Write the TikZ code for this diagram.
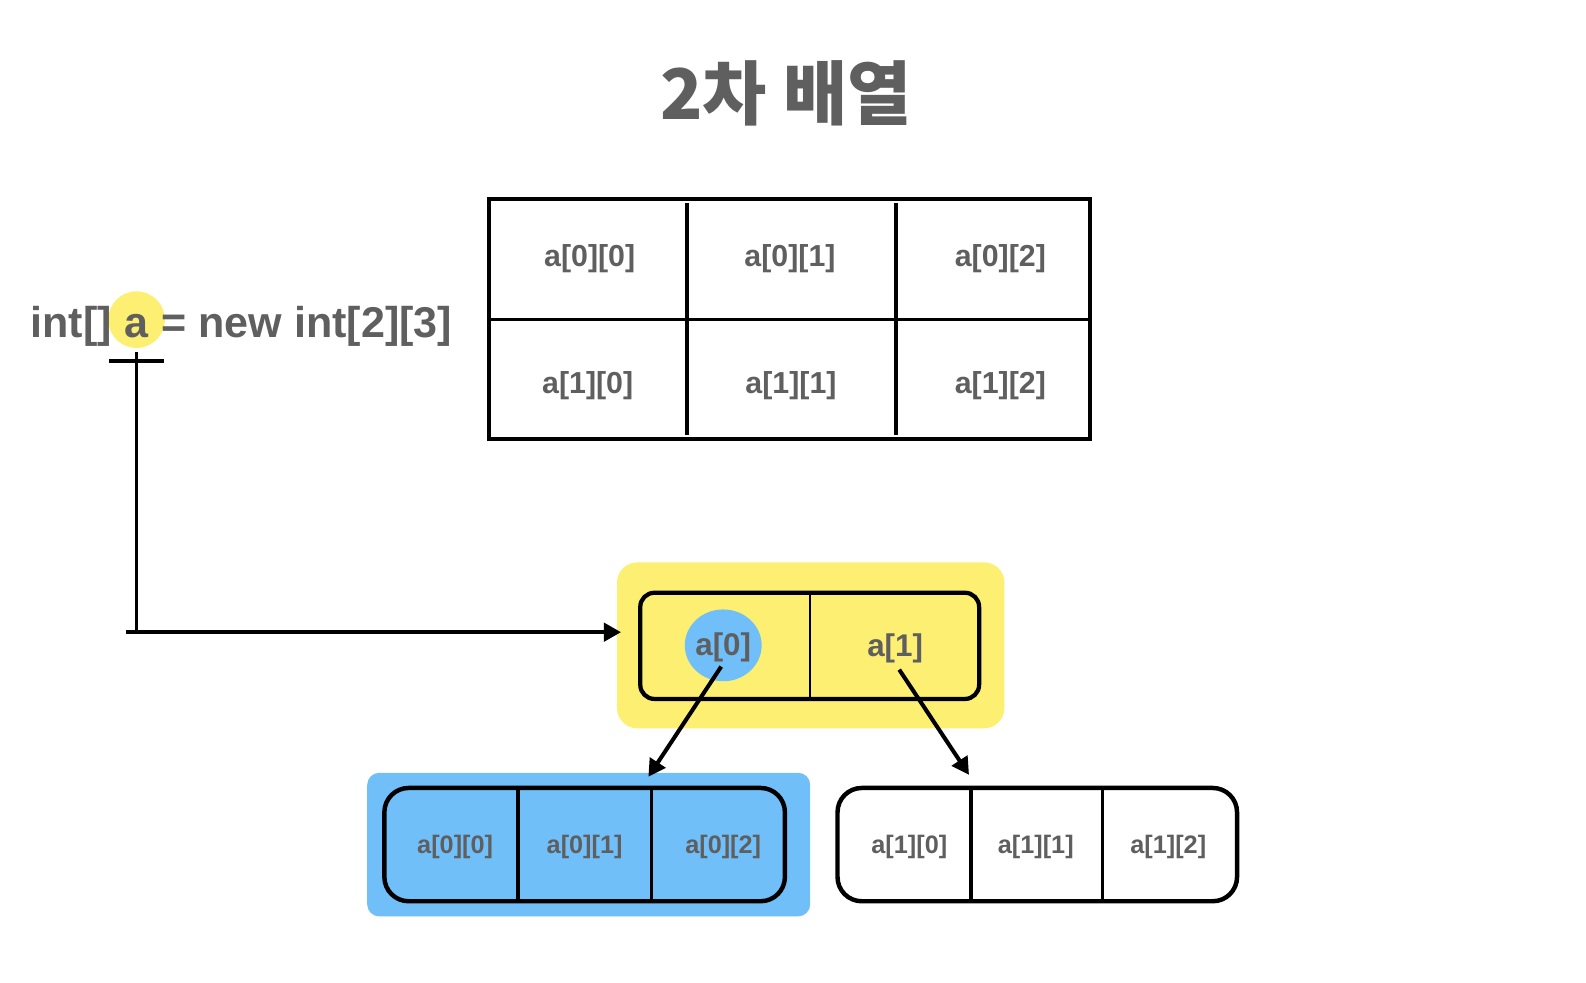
\documentclass[tikz,border=0pt]{standalone}
\usepackage{fontspec}
\setmainfont{Liberation Sans}
\newfontfamily\krfont{Noto Sans CJK KR}
\usetikzlibrary{arrows.meta,shapes.geometric}
\definecolor{txtgray}{HTML}{5F5F5F}
\definecolor{hlyellow}{HTML}{FDEF72}
\definecolor{hlblue}{HTML}{70BFF8}
\tikzset{
  lbl/.style={text=txtgray,font=\fontsize{15}{18}\selectfont\bfseries,inner sep=0pt},
  lblsmall/.style={text=txtgray,font=\fontsize{12.5}{15}\selectfont\bfseries,inner sep=0pt},
  lblmid/.style={text=txtgray,font=\fontsize{15.5}{18}\selectfont\bfseries,inner sep=0pt},
  decl/.style={text=txtgray,font=\fontsize{21.3}{25}\selectfont\bfseries,inner sep=0pt},
  tline/.style={line width=1.8pt},
  arr/.style={line width=2pt,-{Triangle[length=8.5pt,width=9pt]}},
  rowbox/.style={draw,line width=2.2pt,rounded corners=12pt,minimum width=198pt,minimum height=56pt,inner sep=0pt},
}
\begin{document}
\begin{tikzpicture}[x=0.5pt,y=-0.5pt]
\useasboundingbox (0,0) rectangle (1568,971);
% title
\node[anchor=base,text=txtgray,font=\krfont\bfseries\fontsize{34.5}{40}\selectfont,inner sep=0pt] (title) at (777,118) {2차 배열};
% declaration
\node[circle,fill=hlyellow,minimum size=28pt,inner sep=0pt] (acirc) at (135,316) {};
\node[decl,anchor=base] (avar) at (135,334) {a};
\node[decl,anchor=base east] (dleft) at (111,334) {int[]};
\node[decl,anchor=base west] (dright) at (159,334) {= new int[2][3]};
% reference line
\coordinate (crL) at (108,357);
\coordinate (crR) at (162,357);
\coordinate (vtop) at (135,348);
\coordinate (vbot) at (135,625);
\coordinate (hL) at (125,625);
\coordinate (yin) at (614,625);
\draw[tline] (crL) -- (crR);
\draw[tline] (vtop) -- (vbot);
% table
\node[draw,line width=2pt,minimum width=297.5pt,minimum height=118.5pt,inner sep=0pt] (tbl) at (780.5,315.5) {};
\coordinate (v1t) at (679,201); \coordinate (v1b) at (679,430);
\coordinate (v2t) at (886,201); \coordinate (v2b) at (886,430);
\draw[tline] (v1t) -- (v1b);
\draw[tline] (v2t) -- (v2b);
\draw[tline] (tbl.west |- 0,316) -- (tbl.east |- 0,316);
\node[lbl] (t00) at (583,256) {a[0][0]};
\node[lbl] (t01) at (781,256) {a[0][1]};
\node[lbl] (t02) at (989,256) {a[0][2]};
\node[lbl] (t10) at (581,381) {a[1][0]};
\node[lbl] (t11) at (782,381) {a[1][1]};
\node[lbl] (t12) at (989,381) {a[1][2]};
% yellow group
\node[fill=hlyellow,rounded corners=10pt,minimum width=191.5pt,minimum height=82pt,inner sep=0pt] (ybox) at (801.5,638) {};
\node[draw,line width=2.1pt,rounded corners=7pt,minimum width=167.5pt,minimum height=52.5pt,inner sep=0pt] (yrow) at (800.5,638.5) {};
\coordinate (ydt) at (801,588); \coordinate (ydb) at (801,693);
\draw[line width=1pt] (ydt) -- (ydb);
\node[ellipse,fill=hlblue,minimum width=38pt,minimum height=35.5pt,inner sep=0pt] (a0c) at (715,638) {};
\node[lblmid] (a0) at (715,640) {a[0]};
\node[lblmid] (a1) at (885,641) {a[1]};
\draw[tline] (hL) -- (vbot);
\draw[arr] (vbot) -- (yin);
% blue group
\node[fill=hlblue,rounded corners=6pt,minimum width=219pt,minimum height=71pt,inner sep=0pt] (bbox) at (582,835) {};
\node[rowbox] (brow) at (578,835) {};
\coordinate (bd1t) at (512,779); \coordinate (bd1b) at (512,891);
\coordinate (bd2t) at (644,779); \coordinate (bd2b) at (644,891);
\draw[line width=1.6pt] (bd1t) -- (bd1b);
\draw[line width=1.6pt] (bd2t) -- (bd2b);
\node[lblsmall] (b00) at (450,837) {a[0][0]};
\node[lblsmall] (b01) at (578,837) {a[0][1]};
\node[lblsmall] (b02) at (715,837) {a[0][2]};
% white group
\node[rowbox,minimum width=197.5pt] (wrow) at (1025.5,835) {};
\coordinate (wd1t) at (960,779); \coordinate (wd1b) at (960,891);
\coordinate (wd2t) at (1090,779); \coordinate (wd2b) at (1090,891);
\draw[line width=1.6pt] (wd1t) -- (wd1b);
\draw[line width=1.6pt] (wd2t) -- (wd2b);
\node[lblsmall] (w10) at (899,837) {a[1][0]};
\node[lblsmall] (w11) at (1024,837) {a[1][1]};
\node[lblsmall] (w12) at (1155,837) {a[1][2]};
% pointers
\coordinate (p0s) at (713,659);
\coordinate (p0e) at (641,768);
\coordinate (p1s) at (889,662);
\coordinate (p1e) at (958,766);
\draw[arr] (p0s) -- (p0e);
\draw[arr] (p1s) -- (p1e);
\end{tikzpicture}
\end{document}
